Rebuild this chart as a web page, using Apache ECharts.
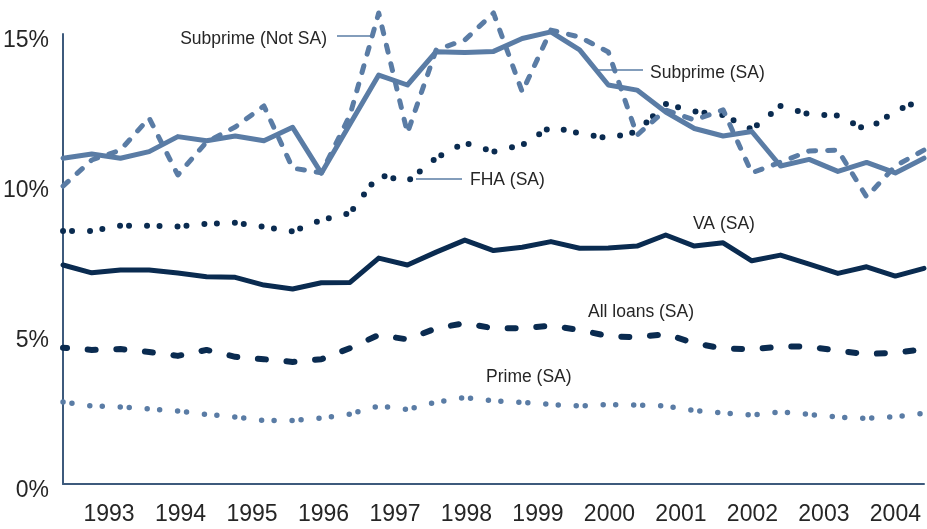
<!DOCTYPE html>
<html>
<head>
<meta charset="utf-8">
<script src="https://cdn.jsdelivr.net/npm/echarts@6/dist/echarts.min.js"></script>
<style>
  html, body { margin: 0; padding: 0; background: #fff; }
  #chart { width: 927px; height: 529px; }
</style>
</head>
<body>
<div id="chart"></div>
<script>
// 31 observations, evenly spaced between these two dates (in years)
const firstDate = 1992.357
const lastDate = 2004.4
const yearLabels = [1993, 1994, 1995, 1996, 1997, 1998, 1999, 2000, 2001, 2002, 2003, 2004]

// delinquency rates, percent
const subprimeSA = [10.86, 11.0, 10.86, 11.08, 11.58, 11.44, 11.6, 11.44, 11.89, 10.36, 12.0,
  13.63, 13.3, 14.41, 14.38, 14.42, 14.85, 15.07, 14.47, 13.3, 13.13, 12.4, 11.85, 11.6, 11.75,
  10.6, 10.82, 10.42, 10.72, 10.37, 10.86]
const subprimeNotSA = [9.93, 10.8, 11.13, 12.2, 10.3, 11.4, 11.9, 12.6, 10.53, 10.37, 12.3,
  15.7, 11.7, 14.47, 14.8, 15.7, 13.07, 15.13, 14.9, 14.4, 11.63, 12.47, 12.13, 12.47, 10.37,
  10.73, 11.1, 11.13, 9.57, 10.6, 11.13]
const fha = [8.43, 8.43, 8.61, 8.61, 8.58, 8.67, 8.71, 8.57, 8.42, 8.8, 9.03, 10.3, 10.08,
  10.87, 11.37, 11.08, 11.3, 11.9, 11.69, 11.52, 11.75, 12.67, 12.42, 12.3, 11.82, 12.6, 12.32,
  12.28, 11.8, 12.43, 12.83]
const va = [7.3, 7.04, 7.13, 7.13, 7.03, 6.91, 6.89, 6.63, 6.5, 6.71, 6.72, 7.53, 7.3, 7.73,
  8.13, 7.78, 7.89, 8.08, 7.86, 7.87, 7.93, 8.3, 7.93, 8.04, 7.44, 7.63, 7.33, 7.02, 7.24, 6.93, 7.19]
const allLoans = [4.54, 4.47, 4.5, 4.4, 4.27, 4.47, 4.24, 4.16, 4.07, 4.16, 4.53, 4.97, 4.82,
  5.19, 5.36, 5.19, 5.19, 5.28, 5.13, 4.93, 4.89, 5.0, 4.69, 4.52, 4.49, 4.58, 4.58, 4.44, 4.33,
  4.38, 4.49]
const prime = [2.73, 2.6, 2.57, 2.5, 2.43, 2.32, 2.23, 2.12, 2.12, 2.2, 2.33, 2.6, 2.48, 2.73,
  2.88, 2.77, 2.72, 2.65, 2.6, 2.65, 2.63, 2.6, 2.45, 2.37, 2.3, 2.4, 2.32, 2.23, 2.19, 2.24, 2.36]

const LIGHT = '#5a7ca5'
const DARK = '#0a2b50'
const TEXT = '#262626'
const FONT = 'Liberation Sans, Arial, sans-serif'

// dash patterns
const ROUND_DOTS = [0, 18, 0, 12.5, 0, 18, 0, 9]
const LONG_DASH = [8, 20.7]
const SHORT_DASH = [7, 12]

const step = (lastDate - firstDate) / (va.length - 1)
function pairs(vals) {
  return vals.map((v, i) => [firstDate + i * step, v])
}

function line(name, vals, color, width, type, offset) {
  return {
    name: name,
    type: 'line',
    data: pairs(vals),
    showSymbol: false,
    clip: false,
    lineStyle: {
      color: color, width: width, type: type, dashOffset: offset || 0,
      cap: 'round', join: 'round'
    }
  }
}

function note(text, x, y, align) {
  return {
    type: 'text', x: x, y: y,
    style: { text: text, fill: TEXT, font: '17.5px ' + FONT, align: align || 'left', verticalAlign: 'middle' }
  }
}
function leader(x1, y1, x2, y2) {
  return {
    type: 'line', shape: { x1: x1, y1: y1, x2: x2, y2: y2 },
    style: { stroke: LIGHT, lineWidth: 1.5 }
  }
}

const chart = echarts.init(document.getElementById('chart'), null, { renderer: 'canvas' })
chart.setOption({
  animation: false,
  backgroundColor: '#fff',
  grid: { left: 63, right: 3, top: 34, bottom: 45 },
  xAxis: {
    type: 'value',
    min: firstDate,
    max: lastDate,
    splitLine: { show: false },
    axisTick: { show: false },
    axisLine: { show: true, lineStyle: { color: '#3d5a7c', width: 2 } },
    axisLabel: {
      customValues: yearLabels,
      formatter: v => String(Math.round(v)),
      color: TEXT, fontSize: 23, fontFamily: FONT, margin: 19
    }
  },
  yAxis: {
    type: 'value',
    min: 0, max: 15, interval: 5,
    splitLine: { show: false },
    axisTick: { show: false },
    axisLine: { show: true, lineStyle: { color: '#3d5a7c', width: 2 } },
    axisLabel: {
      formatter: v => '{p|' + v + '%}',
      margin: 14,
      rich: {
        p: { color: TEXT, fontSize: 23, fontFamily: FONT, padding: [14, 0, 0, 0] }
      }
    }
  },
  series: [
    line('Prime (SA)', prime, LIGHT, 5.5, ROUND_DOTS, 48.5),
    line('All loans (SA)', allLoans, DARK, 6, LONG_DASH, 4),
    line('VA (SA)', va, DARK, 5, 'solid'),
    line('FHA (SA)', fha, DARK, 6, ROUND_DOTS, 48.5),
    line('Subprime (Not SA)', subprimeNotSA, LIGHT, 5, SHORT_DASH, 0),
    line('Subprime (SA)', subprimeSA, LIGHT, 5, 'solid')
  ],
  graphic: [
    note('Subprime (Not SA)', 327, 39, 'right'),
    leader(337, 36, 370, 36),
    note('Subprime (SA)', 650, 73),
    leader(597, 70, 643, 70),
    note('FHA (SA)', 470, 180),
    leader(416, 179, 462, 179),
    note('VA (SA)', 693, 224),
    note('All loans (SA)', 588, 312),
    note('Prime (SA)', 486, 377)
  ]
})
</script>
</body>
</html>
